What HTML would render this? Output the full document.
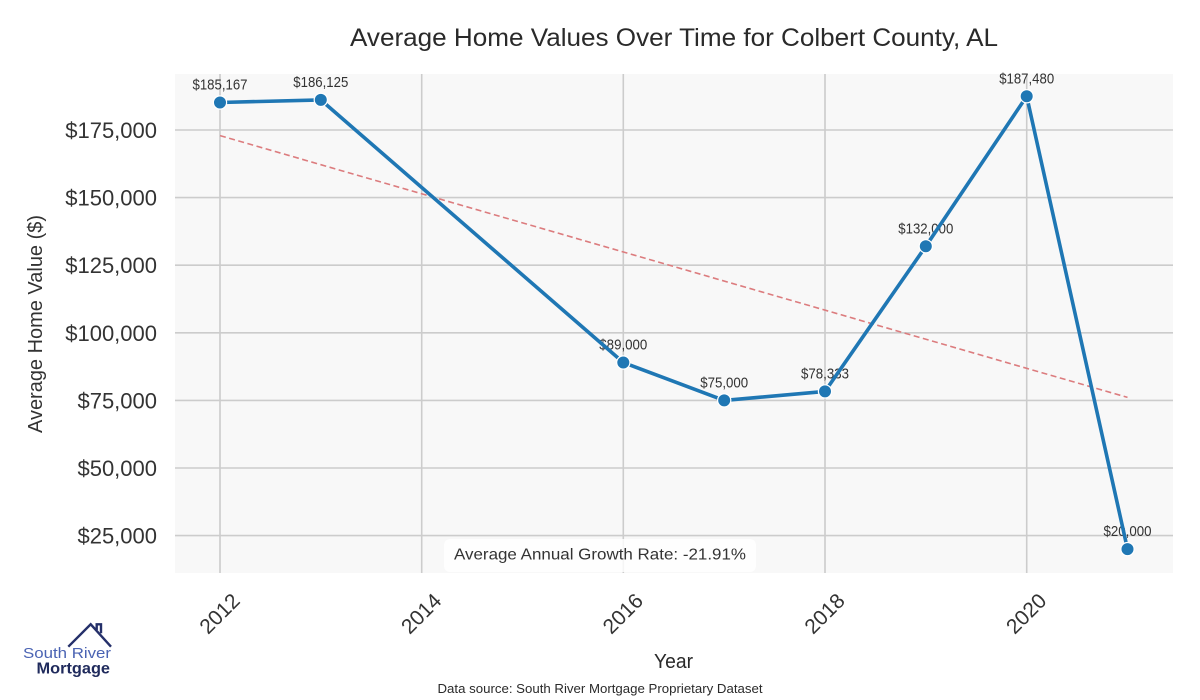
<!DOCTYPE html>
<html><head><meta charset="utf-8"><style>
html,body{margin:0;padding:0;background:#fff;}
svg{display:block;}
</style></head><body>
<svg width="1200" height="700" viewBox="0 0 1200 700" xmlns="http://www.w3.org/2000/svg">
<rect x="0" y="0" width="1200" height="700" fill="#ffffff"/>
<rect x="175" y="74" width="998" height="499" fill="#f8f8f8"/>
<g stroke="#cccccc" stroke-width="1.6">
<line x1="175" x2="1173" y1="130" y2="130"/>
<line x1="175" x2="1173" y1="197.6" y2="197.6"/>
<line x1="175" x2="1173" y1="265.2" y2="265.2"/>
<line x1="175" x2="1173" y1="332.8" y2="332.8"/>
<line x1="175" x2="1173" y1="400.4" y2="400.4"/>
<line x1="175" x2="1173" y1="468" y2="468"/>
<line x1="175" x2="1173" y1="535.6" y2="535.6"/>
<line x1="220" x2="220" y1="74" y2="573"/>
<line x1="421.7" x2="421.7" y1="74" y2="573"/>
<line x1="623.3" x2="623.3" y1="74" y2="573"/>
<line x1="825" x2="825" y1="74" y2="573"/>
<line x1="1026.7" x2="1026.7" y1="74" y2="573"/>
</g>
<line x1="220" y1="135.6" x2="1127.5" y2="397.4" stroke="#dc7c7e" stroke-width="1.6" stroke-dasharray="6,3.5"/>
<g font-family="Liberation Sans, Arial, sans-serif" font-size="15" fill="#333" text-anchor="middle" lengthAdjust="spacingAndGlyphs">
<text x="220" y="89.5" textLength="55" lengthAdjust="spacingAndGlyphs">$185,167</text>
<text x="320.8" y="86.9" textLength="55" lengthAdjust="spacingAndGlyphs">$186,125</text>
<text x="623.3" y="349.5" textLength="48" lengthAdjust="spacingAndGlyphs">$89,000</text>
<text x="724.2" y="387.4" textLength="48" lengthAdjust="spacingAndGlyphs">$75,000</text>
<text x="825" y="378.4" textLength="48" lengthAdjust="spacingAndGlyphs">$78,333</text>
<text x="925.8" y="233.3" textLength="55" lengthAdjust="spacingAndGlyphs">$132,000</text>
<text x="1026.7" y="83.3" textLength="55" lengthAdjust="spacingAndGlyphs">$187,480</text>
<text x="1127.5" y="536.1" textLength="48" lengthAdjust="spacingAndGlyphs">$20,000</text>
</g>
<polyline fill="none" stroke="#1f77b4" stroke-width="3.6" stroke-linejoin="round" points="220,102.5 320.8,99.9 623.3,362.5 724.2,400.4 825,391.4 925.8,246.3 1026.7,96.3 1127.5,549.1"/>
<g fill="#1f77b4" stroke="#ffffff" stroke-width="1.2">
<circle cx="220" cy="102.5" r="6.6"/>
<circle cx="320.8" cy="99.9" r="6.6"/>
<circle cx="623.3" cy="362.5" r="6.6"/>
<circle cx="724.2" cy="400.4" r="6.6"/>
<circle cx="825" cy="391.4" r="6.6"/>
<circle cx="925.8" cy="246.3" r="6.6"/>
<circle cx="1026.7" cy="96.3" r="6.6"/>
<circle cx="1127.5" cy="549.1" r="6.6"/>
</g>
<rect x="444" y="539" width="312" height="33" rx="6" fill="#ffffff" fill-opacity="0.8"/>
<text x="600" y="559.5" font-family="Liberation Sans, Arial, sans-serif" font-size="16" fill="#333" text-anchor="middle" textLength="292" lengthAdjust="spacingAndGlyphs">Average Annual Growth Rate: -21.91%</text>
<g font-family="Liberation Sans, Arial, sans-serif" font-size="22" fill="#333" text-anchor="end">
<text x="157" y="138">$175,000</text>
<text x="157" y="205.6">$150,000</text>
<text x="157" y="273.2">$125,000</text>
<text x="157" y="340.8">$100,000</text>
<text x="157" y="408.4">$75,000</text>
<text x="157" y="476">$50,000</text>
<text x="157" y="543.6">$25,000</text>
</g>
<g font-family="Liberation Sans, Arial, sans-serif" font-size="21" fill="#333" text-anchor="middle" dominant-baseline="central">
<text transform="translate(220,614) rotate(-45)">2012</text>
<text transform="translate(421.7,614) rotate(-45)">2014</text>
<text transform="translate(623.3,614) rotate(-45)">2016</text>
<text transform="translate(825,614) rotate(-45)">2018</text>
<text transform="translate(1026.7,614) rotate(-45)">2020</text>
</g>
<text transform="translate(42,324) rotate(-90)" font-family="Liberation Sans, Arial, sans-serif" font-size="20" fill="#333" text-anchor="middle" textLength="218" lengthAdjust="spacingAndGlyphs">Average Home Value ($)</text>
<text x="674" y="46" font-family="Liberation Sans, Arial, sans-serif" font-size="25" fill="#2a2a2a" text-anchor="middle" textLength="648" lengthAdjust="spacingAndGlyphs">Average Home Values Over Time for Colbert County, AL</text>
<text x="673.5" y="668" font-family="Liberation Sans, Arial, sans-serif" font-size="20" fill="#2a2a2a" text-anchor="middle" textLength="39" lengthAdjust="spacingAndGlyphs">Year</text>
<text x="600" y="693" font-family="Liberation Sans, Arial, sans-serif" font-size="13" fill="#2a2a2a" text-anchor="middle" textLength="325" lengthAdjust="spacingAndGlyphs">Data source: South River Mortgage Proprietary Dataset</text>
<g fill="none" stroke="#25306a" stroke-width="2.4" stroke-linejoin="miter">
<polyline points="68.3,646.7 90.7,624.3 111,646.7"/>
<polyline points="96.7,630 96.7,624.3 101,624.3 101,633.3"/>
</g>
<text x="23" y="658" font-family="Liberation Sans, Arial, sans-serif" font-size="15" fill="#4a63b3" textLength="88" lengthAdjust="spacingAndGlyphs">South River</text>
<text x="36.5" y="673.5" font-family="Liberation Sans, Arial, sans-serif" font-size="16" font-weight="bold" fill="#1f2a5c" textLength="73.5" lengthAdjust="spacingAndGlyphs">Mortgage</text>
</svg>
</body></html>
